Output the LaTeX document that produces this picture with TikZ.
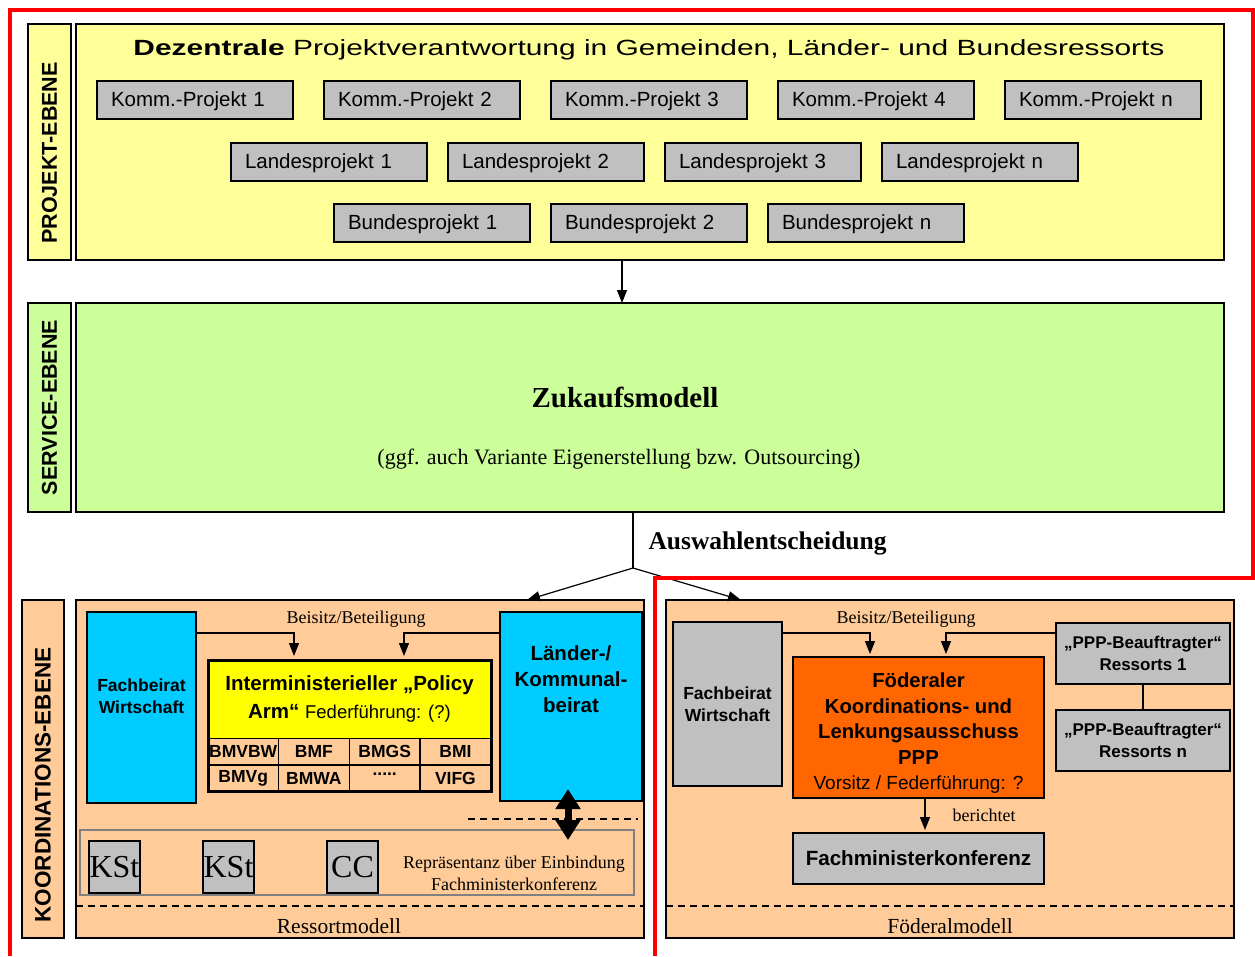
\documentclass[tikz,border=0pt]{standalone}
\usepackage{fontspec}
\usepackage{graphicx}
\setmainfont{Liberation Serif}
\setsansfont{Liberation Sans}
\usetikzlibrary{positioning,arrows.meta}
\definecolor{projyellow}{HTML}{FFFF99}
\definecolor{projgray}{HTML}{C0C0C0}
\definecolor{servgreen}{HTML}{CCFF99}
\definecolor{koordpeach}{HTML}{FFCC99}
\definecolor{beiratcyan}{HTML}{00CCFF}
\definecolor{polyellow}{HTML}{FFFF00}
\definecolor{flkorange}{HTML}{FF6600}
\definecolor{reprgray}{HTML}{808080}

\begin{document}
\begin{tikzpicture}[x=1pt, y=-1pt,
    frame/.style={draw,%
      line width=1.5pt,%
      outer sep=0,%
      inner sep=0},
    ebene/.style={frame,
      rotate=90,
      minimum height=43pt,
      font=\sffamily\bfseries\fontsize{21.5}{24}\selectfont},
    proj/.style={draw, line width=1.5pt, fill=projgray, outer sep=0,
      text width=168pt, inner xsep=14pt, minimum height=38pt, align=left, text depth=1pt,
      font=\sffamily\fontsize{20.5}{22}\selectfont},
    box/.style={draw,%
      line width=1.5pt,%
      outer sep=0,%
      inner sep=0,%
      align=center},
    cell/.style={draw, line width=1.2pt, outer sep=0, inner sep=0,
      minimum width=70.75pt, minimum height=26.5pt,
      font=\sffamily\bfseries\fontsize{17.5}{18}\selectfont},
    kst/.style={draw, line width=1.5pt, fill=projgray, outer sep=0, inner sep=0,
      minimum width=51pt, minimum height=52pt,
      font=\fontsize{32}{34}\selectfont},
    serif/.style={font=\fontsize{18}{20}\selectfont},
    arr/.style={line width=1.2pt, -{Triangle[width=10pt,length=13pt]}},
    dblarr/.style={line width=7pt, {Triangle[width=24pt,length=20pt]}-{Triangle[width=24pt,length=20pt]}},
    sep/.style={line width=1.2pt, dash pattern=on 7pt off 5pt}
    ]
    \useasboundingbox (0,0) rectangle (1255,956);

    \node[frame, fill=projyellow, minimum width=1148pt, minimum height=236pt] (pframe) at (650,142) {};
    \node[ebene, fill=projyellow, minimum width=236pt] (plabel) at (49.5,142) {PROJEKT-EBENE\hspace*{22pt}};
    \node[font=\sffamily\fontsize{22}{26}\selectfont] (ptitle) at (649,50)
      {\scalebox{1.36}[1]{\textbf{Dezentrale} Projektverantwortung in Gemeinden, Länder- und Bundesressorts}};
    \node[proj] (k1) at (195,100) {Komm.-Projekt 1};
    \foreach \i/\name [remember=\i as \lasti (initially 1)] in {2/2,3/3,4/4,5/n}
        \node[proj, right=31pt of k\lasti] (k\i) {Komm.-Projekt \name};
    \node[proj] (l1) at (329,162) {Landesprojekt 1};
    \foreach \i/\name [remember=\i as \lasti (initially 1)] in {2/2,3/3,4/n}
        \node[proj, right=21pt of l\lasti] (l\i) {Landesprojekt \name};
    \node[proj] (b1) at (432,223) {Bundesprojekt 1};
    \foreach \i/\name [remember=\i as \lasti (initially 1)] in {2/2,3/n}
        \node[proj, right=21pt of b\lasti] (b\i) {Bundesprojekt \name};

    \node[frame, fill=servgreen, minimum width=1148pt, minimum height=209pt] (sframe) at (650,407.5) {};
    \node[ebene, fill=servgreen, minimum width=209pt] (slabel) at (49.5,407.5) {SERVICE-EBENE};
    \node[font=\bfseries\fontsize{29}{32}\selectfont] (zuk) at (625,397) {Zukaufsmodell};
    \node[font=\fontsize{22}{24}\selectfont] (zukvar) at (619,459) {(ggf. auch Variante Eigenerstellung bzw. Outsourcing)};
    \draw[arr] ([xshift=-28pt]pframe.south) -- ([xshift=-28pt]sframe.north);

    \node[frame, fill=koordpeach, minimum width=568pt, minimum height=338pt] (rframe) at (360,769) {};
    \node[frame, fill=koordpeach, minimum width=568pt, minimum height=338pt] (fframe) at (950,769) {};
    \node[ebene, fill=koordpeach, minimum width=338pt, minimum height=42pt,
      font=\sffamily\bfseries\fontsize{22.5}{24}\selectfont] (klabel) at (43,769) {KOORDINATIONS-EBENE\hspace*{32pt}};

    \coordinate (split) at (633,568);
    \draw[line width=1.2pt] ([xshift=-17pt]sframe.south) -- (split);
    \draw[arr] (split) -- ([xshift=167pt]rframe.north);
    \draw[arr] (split) -- ([xshift=-209pt]fframe.north);
    \node[anchor=west, font=\bfseries\fontsize{25.5}{28}\selectfont] (auswahl) at (645,543) {Auswahlentscheidung};

    \node[box, fill=beiratcyan, minimum width=109pt, minimum height=191pt, text depth=23pt,
      font=\sffamily\bfseries\fontsize{17.5}{22}\selectfont] (fbw) at (141.5,707.5) {Fachbeirat\\Wirtschaft};
    \node[box, fill=beiratcyan, minimum width=142pt, minimum height=189pt, text depth=54pt,
      font=\sffamily\bfseries\fontsize{20.5}{26}\selectfont] (lkb) at (571,706.5) {Länder-/\\Kommunal-\\beirat};
    \node[box, line width=3pt, minimum width=283pt, minimum height=131pt] (pol) at (349.5,725.5) {};
    \node[anchor=north, fill=polyellow, minimum width=283pt, minimum height=78pt, inner sep=0, align=center,
      font=\sffamily\bfseries\fontsize{20.5}{28}\selectfont] (poltop) at (pol.north)
      {Interministerieller „Policy\\Arm“ {\mdseries\fontsize{18.5}{28}\selectfont Federführung: (?)}};
    \foreach \c/\upper/\lower in {0/BMVBW/BMVg,1/BMF/BMWA,2/BMGS/{\raisebox{8pt}{.....}},3/BMI/VIFG} {
        \node[cell, anchor=north west] (cell\c a) at ([xshift=\c*70.75pt]poltop.south west) {\upper};
        \node[cell, below=0pt of cell\c a] (cell\c b) {\lower};
    }
    \draw[line width=3pt] (pol.north west) rectangle (pol.south east);
    \node[serif] (beisitzr) at (356,619) {Beisitz/Beteiligung};
    \draw[arr] ([yshift=-21pt]fbw.north east) -| ([xshift=-55.5pt,yshift=4pt]pol.north);
    \draw[arr] ([yshift=-21pt]lkb.north west) -| ([xshift=54.5pt,yshift=4pt]pol.north);
    \draw[sep] (468,819) -- (638,819);
    \node[draw=reprgray, line width=2pt, minimum width=554pt, minimum height=65pt, inner sep=0] (repr) at (357,862.5) {};
    \node[kst] (kst1) at (114.5,867) {KSt};
    \node[kst, right=63pt of kst1] (kst2) {KSt};
    \node[kst, right=73pt of kst2] (cc) {CC};
    \node[align=center, font=\fontsize{18}{22}\selectfont] (reprtext) at (514,873) {Repräsentanz über Einbindung\\Fachministerkonferenz};
    \draw[dblarr] ([xshift=-3pt,yshift=12pt]lkb.south) -- ([xshift=-3pt,yshift=-39pt]lkb.south);
    \draw[sep] ([yshift=32pt]rframe.south west) -- ([yshift=32pt]rframe.south east);
    \node[font=\fontsize{21.5}{24}\selectfont] (rmodell) at (339,926) {Ressortmodell};

    \node[box, fill=projgray, minimum width=109pt, minimum height=164pt,
      font=\sffamily\bfseries\fontsize{17.5}{22}\selectfont] (ffbw) at (727.5,704) {Fachbeirat\\Wirtschaft};
    \node[box, fill=flkorange, minimum width=251pt, minimum height=141pt,
      font=\sffamily\bfseries\fontsize{20.3}{25.5}\selectfont] (flk) at (918.5,727.5)
      {\rule{0pt}{26pt}Föderaler\\Koordinations- und\\Lenkungsausschuss\\PPP\\{\mdseries\fontsize{19}{25.5}\selectfont Vorsitz / Federführung: ?}};
    \node[box, fill=projgray, minimum width=174pt, minimum height=61pt,
      font=\sffamily\bfseries\fontsize{17}{22}\selectfont] (ppp1) at (1143,653.5) {„PPP-Beauftragter“\\Ressorts 1};
    \node[box, fill=projgray, minimum width=174pt, minimum height=61pt, below=26pt of ppp1,
      font=\sffamily\bfseries\fontsize{17}{22}\selectfont] (pppn) {„PPP-Beauftragter“\\Ressorts n};
    \draw[line width=1.2pt] (ppp1) -- (pppn);
    \node[serif] (beisitzf) at (906,619) {Beisitz/Beteiligung};
    \draw[arr] ([yshift=-11pt]ffbw.north east) -| ([xshift=-48.5pt,yshift=3pt]flk.north);
    \draw[arr] ([yshift=-10pt]ppp1.north west) -| ([xshift=27.5pt,yshift=3pt]flk.north);
    \node[box, fill=projgray, minimum width=251pt, minimum height=51pt,
      font=\sffamily\bfseries\fontsize{20.6}{24}\selectfont] (fmk) at (918.5,858.5) {Fachministerkonferenz};
    \draw[arr] ([xshift=6.5pt]flk.south) -- ([xshift=6.5pt,yshift=3pt]fmk.north);
    \node[serif] (bericht) at (984,815) {berichtet};
    \draw[sep] ([yshift=32pt]fframe.south west) -- ([yshift=32pt]fframe.south east);
    \node[font=\fontsize{21.5}{24}\selectfont] (fmodell) at (950,926) {Föderalmodell};

    \draw[red, line width=4pt] (10,956) -- (10,10) -- (1253,10) -- (1253,578) -- (655,578) -- (655,956);
  \end{tikzpicture}
\end{document}
